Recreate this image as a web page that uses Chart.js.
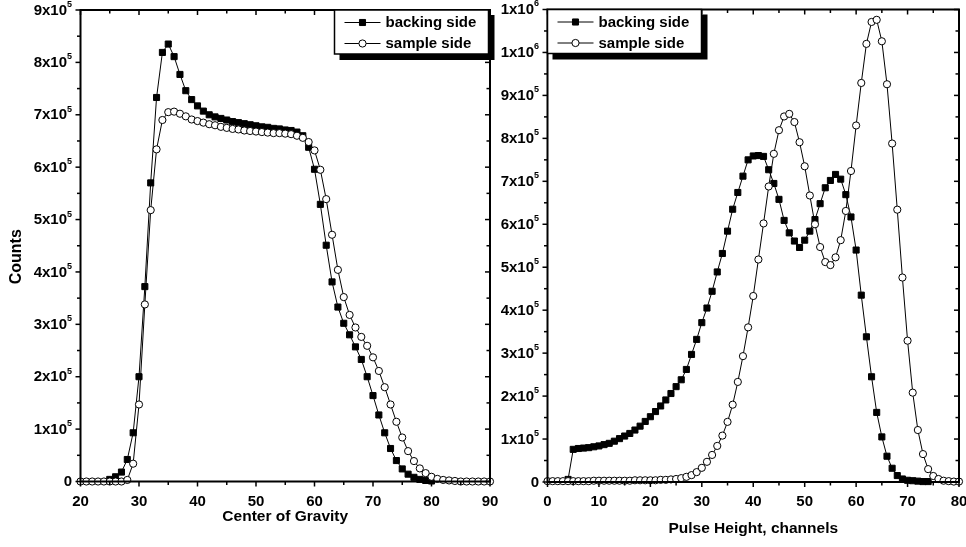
<!DOCTYPE html>
<html>
<head>
<meta charset="utf-8">
<script src="https://cdn.jsdelivr.net/npm/chart.js@4/dist/chart.umd.min.js"></script>
<style>
  html, body { margin: 0; padding: 0; background: #fff; }
  #wrap { position: relative; width: 966px; height: 547px; }
  #wrap canvas { position: absolute; left: 0; top: 0; }
</style>
</head>
<body>
<div id="wrap">
  <canvas id="cog" width="966" height="547"></canvas>
  <canvas id="ph" width="966" height="547"></canvas>
</div>
<script>
// ---- Center of gravity spectra (left panel) ----
const cogChannels = [20, 21, 22, 23, 24, 25, 26, 27, 28, 29, 30, 31, 32, 33, 34, 35, 36, 37, 38, 39,
  40, 41, 42, 43, 44, 45, 46, 47, 48, 49, 50, 51, 52, 53, 54, 55, 56, 57, 58, 59,
  60, 61, 62, 63, 64, 65, 66, 67, 68, 69, 70, 71, 72, 73, 74, 75, 76, 77, 78, 79,
  80, 81, 82, 83, 84, 85, 86, 87, 88, 89, 90];
const cogBacking = [null, null, null, null, null, 4000, 9000, 18000, 42000, 93000,
  200000, 372000, 570000, 733000, 819000, 835000, 811000, 777000, 746000, 729000,
  717000, 707000, 700000, 696000, 693000, 690000, 687000, 685000, 683000, 681000,
  679000, 677000, 676000, 674000, 673000, 671000, 670000, 667000, 660000, 638000,
  596000, 529000, 451000, 381000, 333000, 302000, 280000, 257000, 233000, 200000,
  164000, 127000, 93000, 63000, 40000, 24000, 14000, 8000, 4000, 2000,
  1000, null, null, null, null, null, null, null, null, null, null];
const cogSample = [0, 0, 0, 0, 0, 0, 0, 0, 3000, 34000,
  147000, 338000, 518000, 634000, 690000, 705000, 706000, 702000, 697000, 691000,
  688000, 685000, 682000, 680000, 677000, 675000, 673000, 672000, 670000, 669000,
  668000, 667000, 666000, 665000, 665000, 664000, 663000, 660000, 656000, 648000,
  632000, 595000, 539000, 471000, 404000, 352000, 318000, 294000, 276000, 259000,
  237000, 211000, 180000, 147000, 114000, 84000, 58000, 39000, 25000, 16000,
  9000, 5000, 3000, 2000, 1000, 0, 0, 0, 0, 0, 0];
const cogXTicks = [20, 30, 40, 50, 60, 70, 80, 90];
const cogYTicks = [0, 100000, 200000, 300000, 400000, 500000, 600000, 700000, 800000, 900000];
const cogYLabels = ['0', '1x10^5', '2x10^5', '3x10^5', '4x10^5', '5x10^5', '6x10^5', '7x10^5', '8x10^5', '9x10^5'];

// ---- Pulse height spectra (right panel) ----
const phChannels = [0, 1, 2, 3, 4, 5, 6, 7, 8, 9, 10, 11, 12, 13, 14, 15, 16, 17, 18, 19,
  20, 21, 22, 23, 24, 25, 26, 27, 28, 29, 30, 31, 32, 33, 34, 35, 36, 37, 38, 39,
  40, 41, 42, 43, 44, 45, 46, 47, 48, 49, 50, 51, 52, 53, 54, 55, 56, 57, 58, 59,
  60, 61, 62, 63, 64, 65, 66, 67, 68, 69, 70, 71, 72, 73, 74, 75, 76, 77, 78, 79, 80];
const phBacking = [null, null, null, null, 6000, 76000, 78000, 79000, 80000, 82000,
  84000, 87000, 90000, 95000, 101000, 107000, 113000, 121000, 130000, 141000,
  152000, 164000, 177000, 191000, 206000, 222000, 238000, 262000, 297000, 332000,
  371000, 405000, 444000, 489000, 532000, 584000, 635000, 674000, 712000, 750000,
  759000, 760000, 758000, 727000, 695000, 658000, 609000, 580000, 561000, 546000,
  563000, 584000, 611000, 648000, 685000, 702000, 716000, 705000, 669000, 617000,
  540000, 435000, 338000, 245000, 162000, 105000, 60000, 32000, 15000, 7000,
  4000, 3000, 2000, 1000, 1000, null, null, null, null, null, null];
const phSample = [2000, 2000, 2000, 2000, 2000, 2000, 2000, 2000, 2000, 3000,
  3000, 3000, 3000, 3000, 3000, 3000, 3000, 4000, 4000, 4000,
  4000, 4000, 5000, 5000, 6000, 7000, 9000, 12000, 16000, 23000,
  33000, 47000, 63000, 84000, 108000, 140000, 180000, 233000, 293000, 360000,
  433000, 518000, 602000, 688000, 764000, 819000, 851000, 857000, 838000, 791000,
  735000, 667000, 600000, 547000, 512000, 505000, 523000, 563000, 631000, 724000,
  830000, 929000, 1020000, 1071000, 1076000, 1026000, 926000, 788000, 634000, 476000,
  329000, 208000, 121000, 65000, 30000, 14000, 7000, 3000, 2000, 1000, 1000];
const phXTicks = [0, 10, 20, 30, 40, 50, 60, 70, 80];
const phYTicks = [0, 100000, 200000, 300000, 400000, 500000, 600000, 700000, 800000, 900000, 1000000, 1100000];
const phYLabels = ['0', '1x10^5', '2x10^5', '3x10^5', '4x10^5', '5x10^5', '6x10^5', '7x10^5', '8x10^5', '9x10^5', '1x10^6', '1x10^6'];

const seriesNames = ['backing side', 'sample side'];

const FONT = '"Liberation Sans", Arial, Helvetica, sans-serif';
const W = 966, H = 547;

function points(xs, ys) {
  return xs.map((c, i) => ({ x: c, y: ys[i] }));
}

function datasets(xs, backing, sample) {
  return [
    {
      label: seriesNames[0], data: points(xs, backing), order: 1,
      borderColor: '#000', borderWidth: 1, backgroundColor: '#000',
      pointStyle: 'rect', pointRadius: 4.3, pointBorderWidth: 1,
      pointBackgroundColor: '#000', pointBorderColor: '#000', tension: 0, clip: false
    },
    {
      label: seriesNames[1], data: points(xs, sample), order: 0,
      borderColor: '#000', borderWidth: 1, backgroundColor: '#fff',
      pointStyle: 'circle', pointRadius: 3.6, pointBorderWidth: 1,
      pointBackgroundColor: '#fff', pointBorderColor: '#000', tension: 0, clip: false
    }
  ];
}

function splitLabel(s) {
  const k = s.indexOf('^');
  return k < 0 ? [s, ''] : [s.slice(0, k), s.slice(k + 1)];
}

// Frame, ticks, tick labels, titles and the shadowed legend box
function framePlugin(cfg) {
  return {
    id: 'frame',
    afterDraw(chart) {
      const { ctx, chartArea: a } = chart;
      const xs = chart.scales.x, ys = chart.scales.y;
      const seg = (x1, y1, x2, y2) => { ctx.beginPath(); ctx.moveTo(x1, y1); ctx.lineTo(x2, y2); ctx.stroke(); };
      const mids = arr => arr.slice(1).map((v, i) => (v + arr[i]) / 2);
      const xv = xs.ticks.map(t => t.value);
      const yv = ys.ticks.map(t => t.value);

      ctx.save();
      ctx.strokeStyle = '#000';
      ctx.fillStyle = '#000';
      ctx.lineWidth = 1.5;
      xv.forEach(v => { const p = xs.getPixelForValue(v); seg(p, a.bottom, p, a.bottom + 5); seg(p, a.top, p, a.top + 5); });
      mids(xv).forEach(v => { const p = xs.getPixelForValue(v); seg(p, a.bottom, p, a.bottom + 3.5); seg(p, a.top, p, a.top + 3.5); });
      yv.forEach(v => { const p = ys.getPixelForValue(v); seg(a.left - 5, p, a.left, p); seg(a.right - 5, p, a.right, p); });
      mids(yv).forEach(v => { const p = ys.getPixelForValue(v); seg(a.left - 3.5, p, a.left, p); seg(a.right - 3.5, p, a.right, p); });
      ctx.lineWidth = 2;
      ctx.strokeRect(a.left, a.top, a.right - a.left, a.bottom - a.top);

      // x tick labels
      ctx.font = 'bold 15px ' + FONT;
      ctx.textAlign = 'center';
      ctx.textBaseline = 'middle';
      xv.forEach(v => ctx.fillText(String(v), xs.getPixelForValue(v), a.bottom + 20));

      // y tick labels with superscript exponent
      yv.forEach((v, i) => {
        const [main, sup] = splitLabel(cfg.yLabels[i]);
        const p = ys.getPixelForValue(v);
        ctx.font = 'bold 15px ' + FONT;
        const wMain = ctx.measureText(main).width;
        ctx.font = 'bold 9px ' + FONT;
        const wSup = sup ? ctx.measureText(sup).width : 0;
        const right = a.left - 8.5;
        ctx.textAlign = 'left';
        ctx.font = 'bold 15px ' + FONT;
        ctx.fillText(main, right - wMain - wSup, p + 0.5);
        if (sup) {
          ctx.font = 'bold 9px ' + FONT;
          ctx.fillText(sup, right - wSup, p - 5.5);
        }
      });

      // axis titles
      ctx.textAlign = 'center';
      ctx.font = 'bold 15.5px ' + FONT;
      ctx.fillText(cfg.xTitle, (a.left + a.right) / 2, a.bottom + cfg.xTitleOffset);
      if (cfg.yTitle) {
        ctx.save();
        ctx.translate(17, (a.top + a.bottom) / 2 + 11);
        ctx.rotate(-Math.PI / 2);
        ctx.font = 'bold 16px ' + FONT;
        ctx.fillText(cfg.yTitle, 0, 0);
        ctx.restore();
      }

      // legend box with drop shadow
      const bw = 154, bh = 44;
      const bx = cfg.legendAtRight ? a.right - bw - 1.5 : a.left;
      const by = a.top;
      ctx.fillStyle = '#000';
      ctx.fillRect(bx + 5, by + 5, bw + 1, bh + 1);
      ctx.fillStyle = '#fff';
      ctx.fillRect(bx, by, bw, bh);
      ctx.lineWidth = 1.5;
      ctx.strokeRect(bx, by, bw, bh);
      chart.data.datasets.forEach((ds, i) => {
        const cy = by + 12.5 + i * 21;
        ctx.strokeStyle = '#000';
        ctx.lineWidth = 1;
        seg(bx + 10, cy, bx + 46, cy);
        ctx.fillStyle = ds.pointBackgroundColor;
        ctx.strokeStyle = ds.pointBorderColor;
        Chart.helpers.drawPoint(ctx, {
          pointStyle: ds.pointStyle, radius: ds.pointRadius, borderWidth: ds.pointBorderWidth, rotation: 0
        }, bx + 28, cy);
        ctx.fillStyle = '#000';
        ctx.font = 'bold 15px ' + FONT;
        ctx.textAlign = 'left';
        ctx.textBaseline = 'middle';
        ctx.fillText(ds.label, bx + 51, cy + 0.5);
      });
      ctx.restore();
    }
  };
}

function makeChart(id, xs, backing, sample, axes, box, cfg) {
  return new Chart(document.getElementById(id), {
    type: 'line',
    data: { datasets: datasets(xs, backing, sample) },
    options: {
      responsive: false,
      animation: false,
      events: [],
      layout: { padding: { left: 0, top: box.top, right: W - box.right, bottom: 0 } },
      plugins: { legend: { display: false }, tooltip: { enabled: false } },
      scales: {
        x: {
          type: 'linear', min: axes.xMin, max: axes.xMax,
          ticks: { display: false }, grid: { display: false }, border: { display: false },
          afterBuildTicks: s => { s.ticks = axes.xTicks.map(v => ({ value: v })); },
          afterFit: s => { s.height = H - box.bottom; }
        },
        y: {
          type: 'linear', min: axes.yMin, max: axes.yMax,
          ticks: { display: false }, grid: { display: false }, border: { display: false },
          afterBuildTicks: s => { s.ticks = axes.yTicks.map(v => ({ value: v })); },
          afterFit: s => { s.width = box.left; }
        }
      }
    },
    plugins: [framePlugin(cfg)]
  });
}

makeChart('cog', cogChannels, cogBacking, cogSample,
  { xMin: 20, xMax: 90, yMin: 0, yMax: 900000, xTicks: cogXTicks, yTicks: cogYTicks },
  { left: 80.5, right: 490, top: 10, bottom: 481.5 },
  { yLabels: cogYLabels, xTitle: 'Center of Gravity', xTitleOffset: 35.5, yTitle: 'Counts', legendAtRight: true });

makeChart('ph', phChannels, phBacking, phSample,
  { xMin: 0, xMax: 80, yMin: 0, yMax: 1100000, xTicks: phXTicks, yTicks: phYTicks },
  { left: 547.5, right: 959, top: 9.5, bottom: 482 },
  { yLabels: phYLabels, xTitle: 'Pulse Height, channels', xTitleOffset: 47, yTitle: '', legendAtRight: false });
</script>
</body>
</html>
